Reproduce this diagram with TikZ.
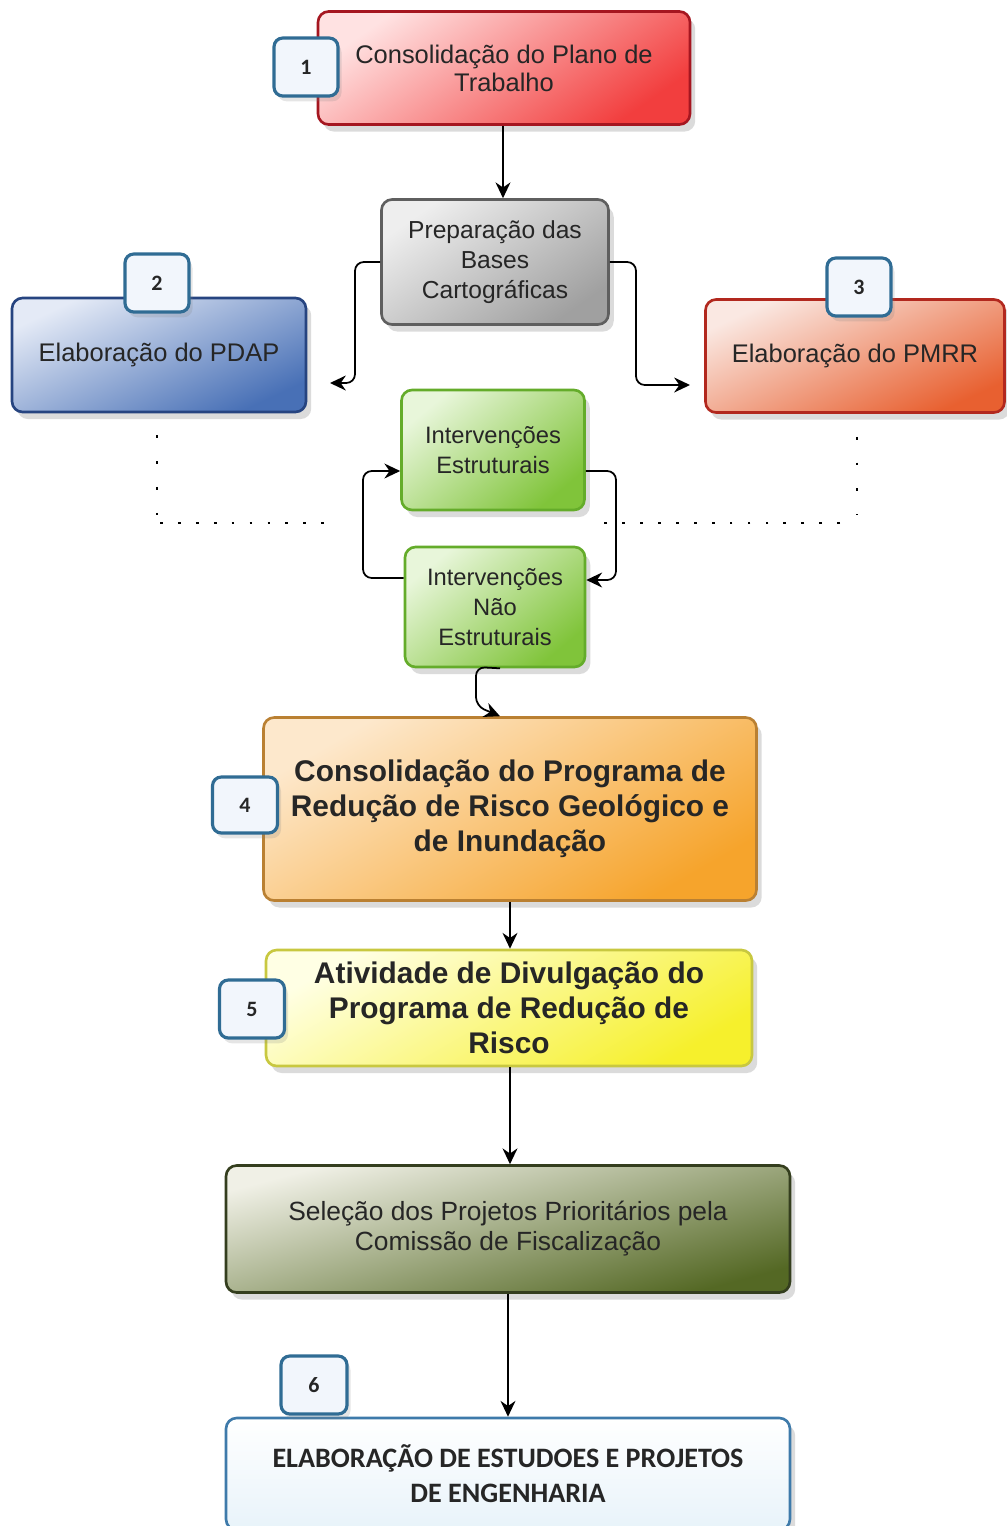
\documentclass[tikz,border=0pt]{standalone}
\usepackage{fontspec}
\setmainfont{Liberation Sans}
\newfontfamily\calfont{Carlito}
\usetikzlibrary{arrows.meta,shadows}

\definecolor{vermclaro}{RGB}{255,226,226}
\definecolor{vermescuro}{RGB}{242,62,62}
\definecolor{vermborda}{RGB}{165,22,32}
\definecolor{cinzaclaro}{RGB}{238,238,238}
\definecolor{cinzaescuro}{RGB}{160,160,160}
\definecolor{cinzaborda}{RGB}{95,95,95}
\definecolor{azulclaro}{RGB}{228,234,246}
\definecolor{azulescuro}{RGB}{72,112,182}
\definecolor{azulborda}{RGB}{38,68,128}
\definecolor{laranjaclaro}{RGB}{250,232,226}
\definecolor{laranjaescuro}{RGB}{232,96,48}
\definecolor{laranjaborda}{RGB}{178,40,30}
\definecolor{verdeclaro}{RGB}{232,246,218}
\definecolor{verdeescuro}{RGB}{128,196,58}
\definecolor{verdeborda}{RGB}{100,172,42}
\definecolor{ourclaro}{RGB}{253,232,204}
\definecolor{ourescuro}{RGB}{246,164,44}
\definecolor{ourborda}{RGB}{186,128,50}
\definecolor{amarclaro}{RGB}{255,255,228}
\definecolor{amarescuro}{RGB}{246,240,44}
\definecolor{amarborda}{RGB}{200,200,64}
\definecolor{olivaclaro}{RGB}{240,240,230}
\definecolor{olivaescuro}{RGB}{84,104,36}
\definecolor{olivaborda}{RGB}{52,62,30}
\definecolor{finalclaro}{RGB}{255,255,255}
\definecolor{finalescuro}{RGB}{232,243,250}
\definecolor{finalborda}{RGB}{62,122,170}
\definecolor{selofundo}{RGB}{242,246,252}
\definecolor{seloborda}{RGB}{48,108,148}

\tikzset{
	caixa/.style={draw, rounded corners=6pt, line width=1.5pt, align=center, text=black!85, inner sep=2pt,
		drop shadow={opacity=0.28, shadow xshift=3pt, shadow yshift=-4pt}},
	selo/.style={draw=seloborda, fill=selofundo, rounded corners=5pt, line width=1.8pt, text=black!85,
		font=\calfont\bfseries\fontsize{12.5}{13}\selectfont, minimum width=1.28cm, minimum height=1.16cm,
		drop shadow={opacity=0.2, shadow xshift=2pt, shadow yshift=-3pt}},
	seta/.style={draw=black, line width=1pt, rounded corners=5pt, -{Stealth[length=9pt,width=8.5pt]}},
	pontosv/.style={line width=1.6pt, dash pattern=on 1.6pt off 13.1pt, black},
	pontosh/.style={line width=1.6pt, dash pattern=on 1.6pt off 8.6pt, black},
}

\begin{document}
\begin{tikzpicture}[x=0.02cm, y=-0.02cm]
			%%%%% START %%%%%
			
			\fill[white] (0,0) rectangle (1007,1526);
			\useasboundingbox (0,0) rectangle (1007,1526);
			
			% caixas
			\node[caixa, draw=vermborda, top color=vermclaro, bottom color=vermescuro, shading angle=35,
				minimum width=7.44cm, minimum height=2.26cm, font=\fontsize{14.5}{16}\selectfont]
				(plano) at (504,68) {Consolidação do Plano de\\Trabalho};
			\node[caixa, draw=cinzaborda, top color=cinzaclaro, bottom color=cinzaescuro, shading angle=35,
				minimum width=4.54cm, minimum height=2.5cm, font=\fontsize{14}{17}\selectfont]
				(prep) at (495,262) {Preparação das\\Bases\\Cartográficas};
			\node[caixa, draw=azulborda, top color=azulclaro, bottom color=azulescuro, shading angle=25,
				minimum width=5.88cm, minimum height=2.28cm, font=\fontsize{14.5}{17}\selectfont]
				(pdap) at (159,355) {Elaboração do PDAP};
			\node[caixa, draw=laranjaborda, top color=laranjaclaro, bottom color=laranjaescuro, shading angle=25,
				minimum width=5.98cm, minimum height=2.26cm, font=\fontsize{14.5}{17}\selectfont]
				(pmrr) at (855,356) {Elaboração do PMRR};
			\node[caixa, draw=verdeborda, top color=verdeclaro, bottom color=verdeescuro, shading angle=40,
				minimum width=3.66cm, minimum height=2.4cm, font=\fontsize{13.5}{17}\selectfont]
				(estr) at (493,450) {Intervenções\\Estruturais};
			\node[caixa, draw=verdeborda, top color=verdeclaro, bottom color=verdeescuro, shading angle=40,
				minimum width=3.6cm, minimum height=2.4cm, font=\fontsize{13.5}{17}\selectfont]
				(naoestr) at (495,607) {Intervenções\\Não\\Estruturais};
			\node[caixa, draw=ourborda, top color=ourclaro, bottom color=ourescuro, shading angle=30,
				minimum width=9.86cm, minimum height=3.66cm, font=\bfseries\fontsize{17}{19.8}\selectfont]
				(prog) at (510,809) {Consolidação do Programa de\\Redução de Risco Geológico e\\de Inundação};
			\node[caixa, draw=amarborda, top color=amarclaro, bottom color=amarescuro, shading angle=30,
				minimum width=9.72cm, minimum height=2.32cm, font=\bfseries\fontsize{17}{19.8}\selectfont]
				(divulg) at (509,1008) {Atividade de Divulgação do\\Programa de Redução de\\Risco};
			\node[caixa, draw=olivaborda, top color=olivaclaro, bottom color=olivaescuro, shading angle=15,
				minimum width=11.28cm, minimum height=2.54cm, font=\fontsize{15}{17}\selectfont]
				(selecao) at (508,1229) {Seleção dos Projetos Prioritários pela\\Comissão de Fiscalização};
			\node[caixa, draw=finalborda, top color=finalclaro, bottom color=finalescuro,
				minimum width=11.28cm, minimum height=2.24cm, font=\calfont\bfseries\fontsize{16}{19.8}\selectfont]
				(final) at (508,1474) {ELABORAÇÃO DE ESTUDOES E PROJETOS\\DE ENGENHARIA};
			
			% selos
			\node[selo] (s1) at (306,67) {1};
			\node[selo] (s2) at (157,283) {2};
			\node[selo] (s3) at (859,287) {3};
			\node[selo, minimum width=1.3cm, minimum height=1.12cm] (s4) at (245,805) {4};
			\node[selo, minimum width=1.3cm] (s5) at (252,1009) {5};
			\node[selo, minimum width=1.32cm] (s6) at (314,1385) {6};
			
			% pontas livres
			\coordinate (pdapin) at (330,383);
			\coordinate (pmrrin) at (690,385);
			
			% ligacoes
			\draw[seta] (plano.south -| 503,0) -- (prep.north -| 503,0);
			\draw[seta] (prep.west) -- (355,262) -- (355,383) -- (pdapin);
			\draw[seta] (prep.west -| prep.east) -- (636,262) -- (636,385) -- (pmrrin);
			\draw[seta] (estr.east |- 0,471) -- (616,471) -- (616,580) -- (naoestr.east |- 0,580);
			\draw[seta] (naoestr.west |- 0,578) -- (363,578) -- (363,471) -- (estr.west |- 0,471);
			\draw[seta] (naoestr.south -| 500,0) -- (476,667) -- (476,706) -- (prog.north -| 500,0);
			\draw[seta] (prog.south -| 510,0) -- (divulg.north -| 510,0);
			\draw[seta] (divulg.south -| 510,0) -- (selecao.north -| 510,0);
			\draw[seta] (selecao.south -| 508,0) -- (final.north -| 508,0);
			
			% pontilhados
			\draw[pontosv] ([yshift=-0.44cm]pdap.south -| 157,0) -- (157,515);
			\draw[pontosh] (160,523) -- (335,523);
			\draw[pontosv] ([yshift=-0.46cm]pmrr.south -| 857,0) -- (857,515);
			\draw[pontosh] (840,523) -- (597,523);
			
			%%%%% END %%%%%
\end{tikzpicture}
\end{document}
